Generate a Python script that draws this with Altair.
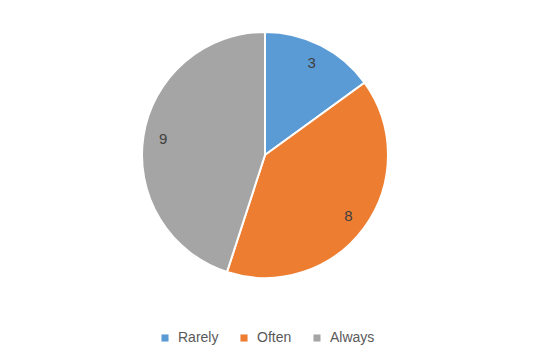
import altair as alt
import pandas as pd

categories = ["Rarely", "Often", "Always"]
values = [3, 8, 9]
colors = ["#5B9BD5", "#ED7D31", "#A5A5A5"]

df = pd.DataFrame({"category": categories, "value": values, "order": [0, 1, 2]})

base = alt.Chart(df).encode(
    theta=alt.Theta("value:Q", stack=True),
    order=alt.Order("order:Q"),
)

pie = base.mark_arc(radius=123, stroke="white", strokeWidth=2).encode(
    color=alt.Color(
        "category:N",
        scale=alt.Scale(domain=categories, range=colors),
        sort=categories,
        legend=alt.Legend(
            title=None,
            orient="none",
            direction="horizontal",
            legendX=158,
            legendY=331,
            symbolType="square",
            symbolSize=50,
            symbolStrokeWidth=0,
            labelFontSize=14,
            labelFont="Liberation Sans",
            labelColor="#595959",
            labelOffset=6,
            columnPadding=18,
        ),
    )
)

labels = base.mark_text(
    radius=103, fontSize=15, font="Liberation Sans", color="#404040"
).encode(text="value:Q")

chart = (
    (pie + labels)
    .properties(
        width=530,
        height=310,
        autosize=alt.AutoSizeParams(type="none"),
        padding={"left": 0, "top": 0, "right": 13, "bottom": 45},
    )
    .configure_view(stroke=None)
)

chart.save("out.html", embed_options={"renderer": "svg", "actions": False})
